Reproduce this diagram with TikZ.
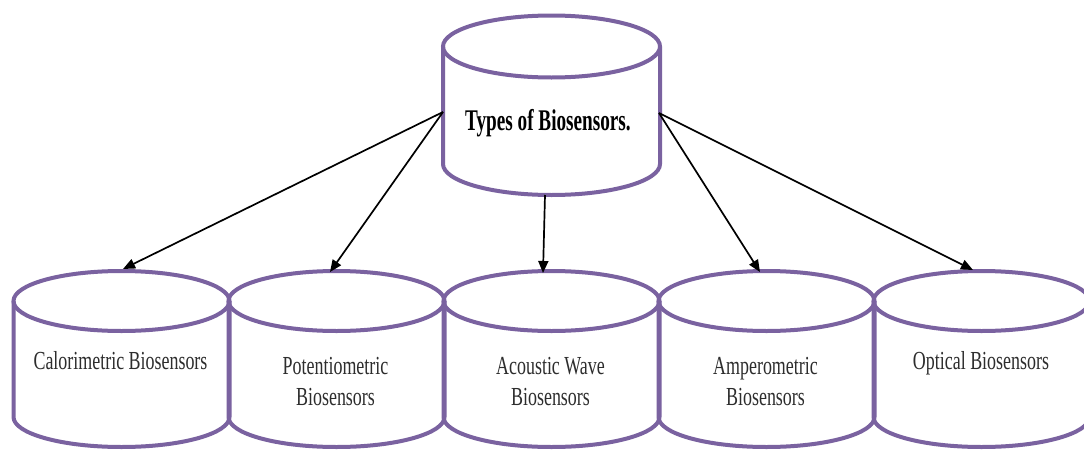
\documentclass[tikz,border=0pt]{standalone}
\usepackage{fontspec}
\setmainfont{Liberation Serif}
\newfontfamily\labelfont[FakeStretch=0.69]{Liberation Serif}
\newfontfamily\titlefont[FakeStretch=0.64]{Liberation Serif Bold}
\usetikzlibrary{arrows.meta}
\definecolor{cylpurple}{RGB}{122,98,160}
\definecolor{labelgray}{RGB}{45,45,45}
% cylinder outline: centre x, top-ellipse y, bottom-arc y, x radius, y radius
\newcommand\cylinderdrum[5]{%
  \draw[rim] (#1,#2) ellipse[x radius=#4, y radius=#5];
  \draw[rim] (#1-#4,#2) -- (#1-#4,#3)
    arc[start angle=180, end angle=0, x radius=#4, y radius=#5] -- (#1+#4,#2);
}
\begin{document}
\begin{tikzpicture}[x=1pt, y=-1pt,
  rim/.style={draw=cylpurple, line width=4pt},
  link/.style={draw=black, line width=1.7pt, -{Triangle[length=12pt,width=10pt]}},
  lbl/.style={font=\labelfont\fontsize{26}{31}\selectfont, text=labelgray,
              align=center, inner sep=0pt, anchor=base},
  title/.style={font=\titlefont\fontsize{30}{34}\selectfont, text=black,
              inner sep=0pt, anchor=base}]
\fill[white] (0,0) rectangle (1084,450);
\useasboundingbox (0,0) rectangle (1084,450);

% root cylinder
\cylinderdrum{551.5}{46.5}{164}{108.5}{31}
\node[title] (root) at (548,130) {Types of Biosensors.};
\coordinate (root-w) at (443,112);
\coordinate (root-e) at (659,113);
\coordinate (root-s) at (545,195);

% row of sensor cylinders
\foreach \cx in {121.5,336.5,551.5,766.5,981.5}{
  \cylinderdrum{\cx}{301}{417}{108}{30}
}
% single-line labels sit on their baseline, two-line labels on the last one
\node[lbl] (cal) at (120.5,369) {Calorimetric Biosensors};
\node[lbl] (pot) at (335.5,405) {Potentiometric\\Biosensors};
\node[lbl] (aco) at (550.5,405) {Acoustic Wave\\Biosensors};
\node[lbl] (amp) at (765.5,405) {Amperometric\\Biosensors};
\node[lbl] (opt) at (981,369) {Optical Biosensors};

\coordinate (cal-top) at (123,269);
\coordinate (pot-top) at (330,272);
\coordinate (aco-top) at (543,273);
\coordinate (amp-top) at (760,272);
\coordinate (opt-top) at (973,270);

% connectors
\draw[link] (root-w) -- (cal-top);
\draw[link] (root-w) -- (pot-top);
\draw[link] (root-s) -- (aco-top);
\draw[link] (root-e) -- (amp-top);
\draw[link] (root-e) -- (opt-top);
\end{tikzpicture}
\end{document}
